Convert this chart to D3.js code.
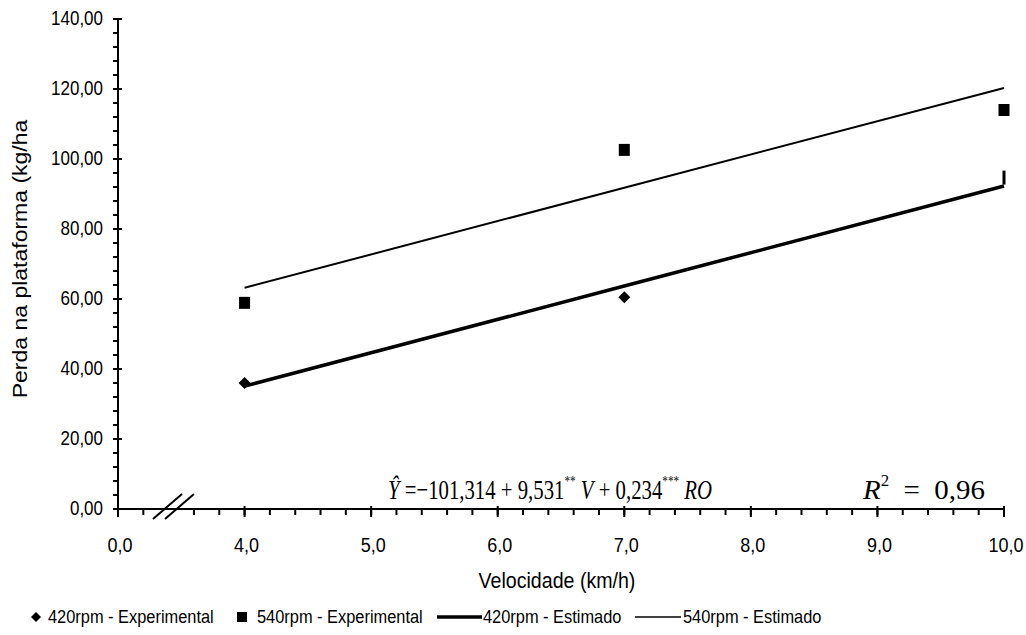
<!DOCTYPE html>
<html>
<head>
<meta charset="utf-8">
<script src="https://cdn.jsdelivr.net/npm/d3@7"></script>
<style>
body { margin: 0; background: #fff; }
text { font-family: "Liberation Sans", Arial, sans-serif; fill: #000; }
.eq text { font-family: "Liberation Serif", "Times New Roman", serif; }
</style>
</head>
<body>
<div id="chart"></div>
<script>
// velocity (km/h) of each treatment
var velocities = [4, 7, 10];
// measured losses (kg/ha)
var exp420 = [36.0, 60.5, 94.7];
var exp540 = [58.9, 102.6, 114.0];
// fitted lines (kg/ha)
var est420 = [35.1, 63.7, 92.3];
var est540 = [63.2, 91.8, 120.3];

var xTickValues = [3, 4, 5, 6, 7, 8, 9, 10];
var xTickLabels = ["0,0", "4,0", "5,0", "6,0", "7,0", "8,0", "9,0", "10,0"];
var yTickValues = [0, 20, 40, 60, 80, 100, 120, 140];

var legendItems = ["420rpm - Experimental", "540rpm - Experimental", "420rpm - Estimado", "540rpm - Estimado"];

var W = 1026, H = 635;
var SY = 1.15; // the original picture is stretched vertically

var svg = d3.select("#chart").append("svg")
    .attr("width", W)
    .attr("height", H);

// put a text at (px,py) with the vertical stretch of the original
function stretched(sel, px, py) {
    return sel.attr("transform", "translate(" + px + "," + py + ") scale(1," + SY + ")");
}

// the axis is broken between 0 and ~3.5, so "0,0" sits one unit left of 4,0
var x = d3.scaleLinear().domain([3, 10]).range([118, 1004]);
var y = d3.scaleLinear().domain([0, 140]).range([509, 19]);

// y axis
var yAxis = svg.append("g");
yAxis.append("line")
    .attr("x1", x(3)).attr("x2", x(3))
    .attr("y1", y(140)).attr("y2", y(0))
    .attr("stroke", "#000").attr("stroke-width", 2);
yAxis.selectAll(".minor")
    .data(d3.range(0, 141, 4))
    .enter().append("line")
    .attr("x1", x(3) - 5).attr("x2", x(3))
    .attr("y1", d => y(d)).attr("y2", d => y(d))
    .attr("stroke", "#000").attr("stroke-width", 2);
yAxis.selectAll(".major")
    .data(yTickValues)
    .enter().append("line")
    .attr("x1", x(3) - 5).attr("x2", x(3) + 4)
    .attr("y1", d => y(d)).attr("y2", d => y(d))
    .attr("stroke", "#000").attr("stroke-width", 2);
yAxis.selectAll("text")
    .data(yTickValues)
    .enter().append("text")
    .each(function(d) { stretched(d3.select(this), 103, y(d) + 6); })
    .attr("text-anchor", "end")
    .style("font-size", "17px")
    .text(d => d3.format(".2f")(d).replace(".", ","));

// x axis
var xAxis = svg.append("g");
xAxis.append("line")
    .attr("x1", x(3) - 1).attr("x2", x(10) + 1)
    .attr("y1", y(0)).attr("y2", y(0))
    .attr("stroke", "#000").attr("stroke-width", 2);
var minorX = d3.range(3, 10.01, 0.2).filter(d => Math.abs(d - 3.4) > 0.01);
xAxis.selectAll(".minor")
    .data(minorX)
    .enter().append("line")
    .attr("x1", d => x(d)).attr("x2", d => x(d))
    .attr("y1", y(0)).attr("y2", y(0) + 6)
    .attr("stroke", "#000").attr("stroke-width", 2);
xAxis.selectAll(".major")
    .data(xTickValues)
    .enter().append("line")
    .attr("x1", d => x(d)).attr("x2", d => x(d))
    .attr("y1", y(0) - 3).attr("y2", y(0) + 8)
    .attr("stroke", "#000").attr("stroke-width", 2);
xAxis.selectAll("text")
    .data(xTickValues)
    .enter().append("text")
    .each(function(d) { stretched(d3.select(this), x(d) + 2, 552); })
    .attr("text-anchor", "middle")
    .style("font-size", "18px")
    .text((d, i) => xTickLabels[i]);

// break marks
xAxis.selectAll(".brk")
    .data([0, 12])
    .enter().append("line")
    .attr("x1", d => 153 + d).attr("y1", 519)
    .attr("x2", d => 182 + d).attr("y2", 494)
    .attr("stroke", "#000").attr("stroke-width", 2);

// axis titles
stretched(svg.append("text"), 557, 588)
    .attr("text-anchor", "middle")
    .style("font-size", "19.6px")
    .text("Velocidade (km/h)");
svg.append("text")
    .attr("transform", "translate(27,259) scale(1," + SY + ") rotate(-90)")
    .attr("text-anchor", "middle")
    .style("font-size", "20px")
    .text("Perda na plataforma (kg/ha");

// fitted lines
var line = d3.line().x((d, i) => x(velocities[i])).y(d => y(d));
svg.append("path").datum(est540)
    .attr("d", line).attr("fill", "none")
    .attr("stroke", "#000").attr("stroke-width", 2);
svg.append("path").datum(est420)
    .attr("d", line).attr("fill", "none")
    .attr("stroke", "#000").attr("stroke-width", 3.5);

// markers
var marks = svg.append("g");
marks.selectAll(".sq")
    .data(exp540)
    .enter().append("rect")
    .attr("x", (d, i) => x(velocities[i]) - 5.5)
    .attr("y", d => y(d) - 6)
    .attr("width", 11).attr("height", 12)
    .attr("fill", "#000");
var diamondPath = "M0,-6L6,0L0,6L-6,0Z";
marks.selectAll(".dm")
    .data(exp420.filter((d, i) => velocities[i] < 10))
    .enter().append("path")
    .attr("d", diamondPath)
    .attr("transform", (d, i) => "translate(" + x(velocities[i]) + "," + y(d) + ")")
    .attr("fill", "#000");
// the 10 km/h diamond is cut by the plot edge, only a sliver shows
marks.selectAll(".dmEdge")
    .data(exp420.filter((d, i) => velocities[i] === 10))
    .enter().append("rect")
    .attr("x", x(10) - 1.5)
    .attr("y", d => y(d) - 7)
    .attr("width", 3).attr("height", 14)
    .attr("fill", "#000");

// regression equation
var eq = svg.append("g").attr("class", "eq");
var t1 = eq.append("text")
    .attr("x", 0).attr("y", 0)
    .attr("textLength", 324)
    .attr("lengthAdjust", "spacingAndGlyphs")
    .style("font-size", "24px");
stretched(t1, 388, 499);
t1.append("tspan").style("font-style", "italic").text("Ŷ");
t1.append("tspan").text(" =\u2212101,314 + 9,531");
t1.append("tspan").attr("dy", -11).style("font-size", "13px").text("**");
t1.append("tspan").attr("dy", 11).style("font-style", "italic").text(" V");
t1.append("tspan").text(" + 0,234");
t1.append("tspan").attr("dy", -11).style("font-size", "13px").text("***");
t1.append("tspan").attr("dy", 11).style("font-style", "italic").text(" RO");
var t2 = eq.append("text")
    .attr("x", 0).attr("y", 0)
    .attr("textLength", 122)
    .attr("lengthAdjust", "spacingAndGlyphs")
    .style("font-size", "24px");
stretched(t2, 863, 499);
t2.append("tspan").style("font-style", "italic").text("R");
t2.append("tspan").attr("dy", -11).style("font-size", "14px").text("2");
t2.append("tspan").attr("dy", 11).attr("dx", 12).text("=");
t2.append("tspan").attr("dx", 12).text("0,96");

// legend
var lg = svg.append("g").attr("transform", "translate(0,617)");
lg.append("path").attr("d", "M0,-5L5,0L0,5L-5,0Z").attr("transform", "translate(36,0)").attr("fill", "#000");
stretched(lg.append("text"), 48, 6).style("font-size", "16.4px").text(legendItems[0]);
lg.append("rect").attr("x", 237).attr("y", -5).attr("width", 10).attr("height", 10).attr("fill", "#000");
stretched(lg.append("text"), 257, 6).style("font-size", "16.4px").text(legendItems[1]);
lg.append("line").attr("x1", 437).attr("x2", 482).attr("y1", 0).attr("y2", 0)
    .attr("stroke", "#000").attr("stroke-width", 3.5);
stretched(lg.append("text"), 483, 6).style("font-size", "16.4px").text(legendItems[2]);
lg.append("line").attr("x1", 635).attr("x2", 681).attr("y1", 0).attr("y2", 0)
    .attr("stroke", "#000").attr("stroke-width", 1.5);
stretched(lg.append("text"), 683, 6).style("font-size", "16.4px").text(legendItems[3]);
</script>
</body>
</html>
